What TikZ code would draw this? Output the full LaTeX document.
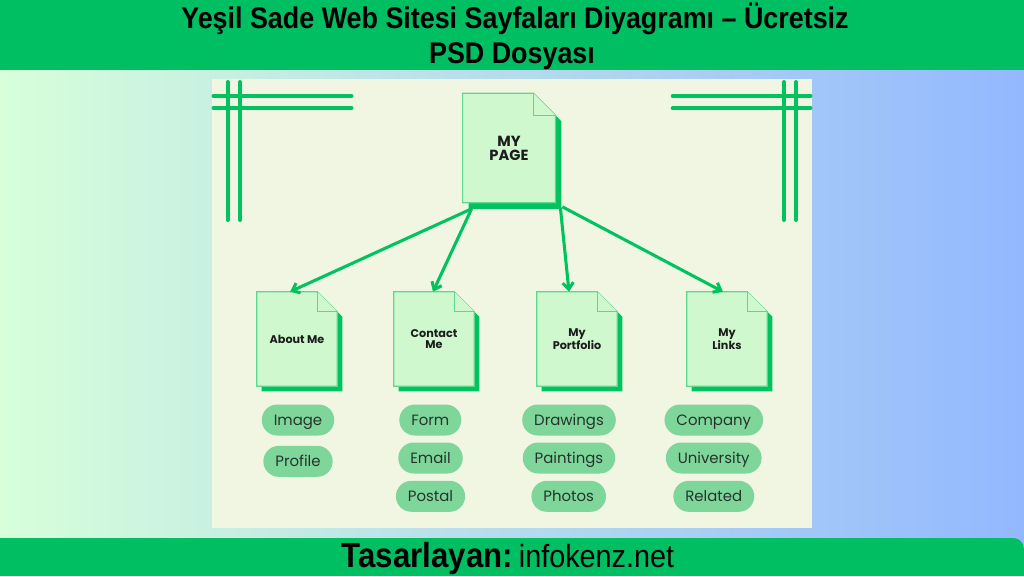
\documentclass[tikz,border=0pt]{standalone}
\usepackage{fontspec}
\usepackage{tikz}
\usetikzlibrary{arrows.meta, backgrounds}
\newfontfamily\titlefont[FakeStretch=0.9]{Liberation Sans}
\newfontfamily\labelfont{Poppins}
\definecolor{bannergreen}{HTML}{00BF63}
\definecolor{panelcream}{HTML}{F1F6E2}
\definecolor{pagefill}{HTML}{CFF8CE}
\definecolor{pageedge}{HTML}{5FD88F}
\definecolor{deepgreen}{HTML}{00C35F}
\definecolor{pillgreen}{HTML}{7ED69B}
\definecolor{inkdark}{HTML}{1C1C1C}
\definecolor{pillink}{HTML}{26332A}
\definecolor{bgmint}{HTML}{D6FFDA}
\definecolor{bgblue}{HTML}{94B8FF}
% page with folded corner and offset shadow, drawn round a node
\newcommand{\pageshape}[3]{%
  \fill[deepgreen] ([shift={(#3,#3)}]#1.north west) -- ([shift={(#3-#2,#3)}]#1.north east)
    -- ([shift={(#3,#3+#2)}]#1.north east) -- ([shift={(#3,#3)}]#1.south east)
    -- ([shift={(#3,#3)}]#1.south west) -- cycle;
  \filldraw[pagebody] (#1.north west) -- ([shift={(-#2,0)}]#1.north east)
    -- ([shift={(0,#2)}]#1.north east) -- (#1.south east) -- (#1.south west) -- cycle;
  \draw[pagebody] ([shift={(-#2,0)}]#1.north east) -- ([shift={(-#2,#2)}]#1.north east)
    -- ([shift={(0,#2)}]#1.north east);
}
\tikzset{
  pagebody/.style={fill=pagefill, draw=pageedge, line width=0.9pt},
  mainpage/.style={minimum width=69.2pt, minimum height=81.8pt, inner sep=0pt, align=center,
    text=inkdark, font=\labelfont\bfseries\fontsize{11}{10.5}\selectfont},
  subpage/.style={minimum width=60pt, minimum height=70.5pt, inner sep=0pt, align=center,
    text=inkdark, font=\labelfont\bfseries\fontsize{8.4}{8.3}\selectfont},
  pill/.style={fill=pillgreen, rounded corners=11.6pt, minimum height=23.25pt,
    text height=7.8pt, text depth=0pt,
    inner xsep=9pt, inner ysep=0pt, text=pillink, font=\labelfont\fontsize{11.2}{13}\selectfont},
  link/.style={draw=deepgreen, line width=2.3pt, -{Straight Barb[length=5pt, width=8pt]}},
  deco/.style={draw=deepgreen, line width=3pt, line cap=round},
  titletext/.style={inner sep=0pt, text=black, font=\titlefont\bfseries\fontsize{22.4}{26}\selectfont}
}

\begin{document}
\begin{tikzpicture}[x=0.75pt, y=-0.75pt]
  \useasboundingbox (0,0) rectangle (1024,576);
  \begin{scope}[on background layer]
    \shade[left color=bgmint, right color=bgblue] (0,60) rectangle (1024,545);
    \fill[bannergreen] (0,0) rectangle (1024,70);
    \fill[bannergreen] (0,576) -- (0,538) [rounded corners=8pt] -- (1024,538) [sharp corners] -- (1024,576) -- cycle;
    \fill[panelcream] (212,79) rectangle (811.5,528);
    % corner lines
    \draw[deco] (227.5,82) -- (227.5,220);
    \draw[deco] (240,82) -- (240,220);
    \draw[deco] (213.5,96) -- (351.5,96);
    \draw[deco] (213.5,108.3) -- (351.5,108.3);
    \draw[deco] (784,82) -- (784,220);
    \draw[deco] (796,82) -- (796,220);
    \draw[deco] (672.7,96) -- (810.5,96);
    \draw[deco] (672.7,108.3) -- (810.5,108.3);
  \end{scope}

  \node[titletext, anchor=base] (titleA) at (515,28) {Yeşil Sade Web Sitesi Sayfaları Diyagramı – Ücretsiz};
  \node[titletext, anchor=base] (titleB) at (512,63) {PSD Dosyası};

  \node[mainpage] (mypage) at (509,148) {MY\\PAGE};
  \node[subpage] (about) at (297,339) {About Me};
  \node[subpage] (contact) at (434,339) {Contact\\Me};
  \node[subpage] (portfolio) at (577,339) {My\\Portfolio};
  \node[subpage] (links) at (727,339) {My\\Links};

  \begin{scope}[on background layer]
    \pageshape{mypage}{22}{6}
    \pageshape{about}{20}{5}
    \pageshape{contact}{20}{5}
    \pageshape{portfolio}{20}{5}
    \pageshape{links}{20}{5}
  \end{scope}

  \draw[link] ([shift={(9,6)}]mypage.south west) -- ([shift={(-7,0)}]about.north);
  \draw[link] ([shift={(9,6)}]mypage.south west) -- ([shift={(-1,0)}]contact.north);
  \draw[link] ([shift={(5,5)}]mypage.south east) -- ([shift={(-8,0)}]portfolio.north);
  \draw[link] ([shift={(7,4)}]mypage.south east) -- ([shift={(-4,0)}]links.north);

  \node[pill] (image) at (298,420) {Image};
  \node[pill] (profile) at (298,461.3) {Profile};
  \node[pill] (form) at (430.3,420) {Form};
  \node[pill] (email) at (430.5,458) {Email};
  \node[pill] (postal) at (430.5,496.3) {Postal};
  \node[pill] (drawings) at (569,420) {Drawings};
  \node[pill] (paintings) at (569,458) {Paintings};
  \node[pill] (photos) at (568.7,496.3) {Photos};
  \node[pill] (company) at (713.8,420) {Company};
  \node[pill] (university) at (713.7,458) {University};
  \node[pill] (related) at (713.8,496.3) {Related};

  \node[anchor=base, inner sep=0pt] (credit) at (508,567)
    {{\titlefont\bfseries\fontsize{26}{28}\selectfont Tasarlayan:} {\titlefont\fontsize{24}{26}\selectfont infokenz.net}};
\end{tikzpicture}
\end{document}
